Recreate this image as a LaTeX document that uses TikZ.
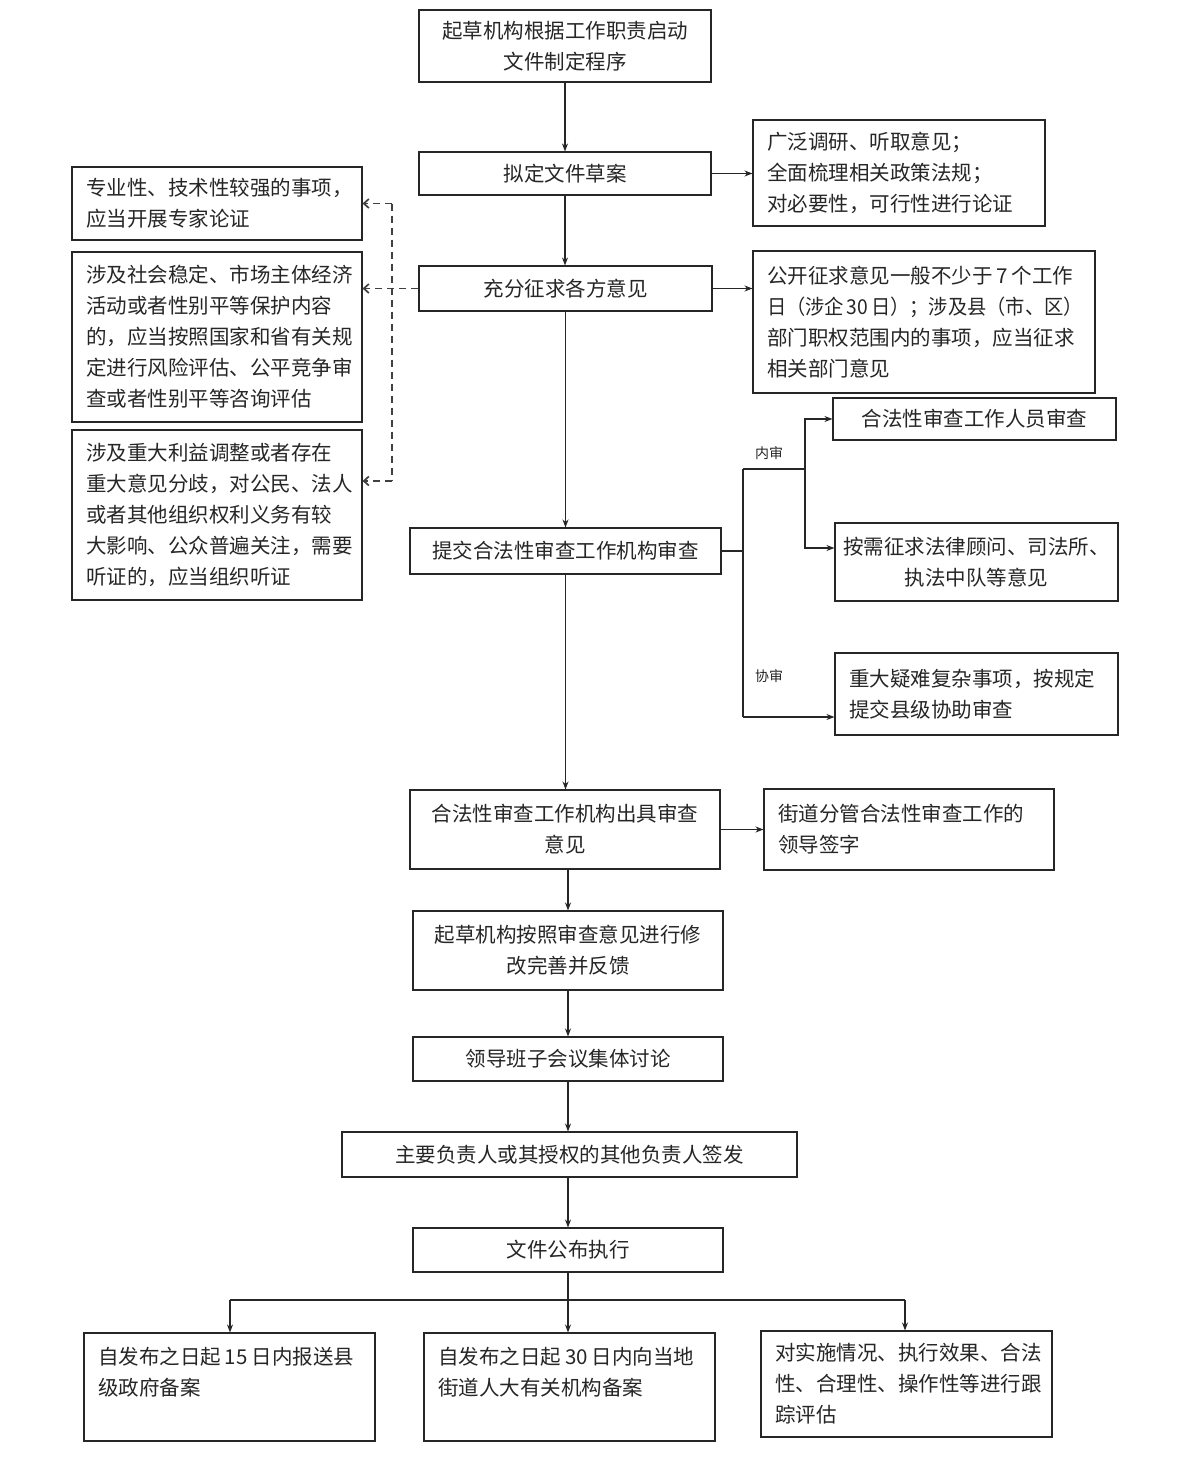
\documentclass[tikz,border=0pt]{standalone}
\usepackage{fontspec}
\usepackage{graphicx}
\newfontfamily\cjk{Noto Sans CJK SC}
\usetikzlibrary{arrows.meta}
\tikzset{
  box/.style={draw=black!85, line width=1.1pt, inner sep=0pt, text=black!85,
    font=\cjk\fontsize{20.5}{31}\selectfont},
  cbox/.style={box, align=center},
  lbox/.style={box, align=left, inner xsep=14pt},
  conn/.style={line width=1.1pt, draw=black!85},
  arr/.style={conn, -{Stealth[length=8pt,width=6pt]}},
  dsh/.style={line width=1.7pt, draw=black!75, dash pattern=on 7pt off 5pt},
  darr/.style={dsh, -{Straight Barb[length=5pt,width=9pt]}},
  lab/.style={font=\cjk\fontsize{14}{16}\selectfont, text=black!85, inner sep=0pt}
}
\begin{document}
\begin{tikzpicture}[x=1pt,y=-1pt]
\useasboundingbox[fill=white] (0,0) rectangle (1199,1477);
% main column
\node[cbox, minimum width=292pt, minimum height=72pt] (n1) at (565,46) {起草机构根据工作职责启动\\文件制定程序};
\node[cbox, minimum width=292pt, minimum height=43pt] (n2) at (565,173.5) {拟定文件草案};
\node[cbox, minimum width=293pt, minimum height=45pt] (n3) at (565.5,288.5) {充分征求各方意见};
\node[cbox, minimum width=311pt, minimum height=46pt] (n4) at (565.5,551) {提交合法性审查工作机构审查};
\node[cbox, minimum width=310pt, minimum height=79pt] (n5) at (565,829.5) {合法性审查工作机构出具审查\\意见};
\node[cbox, minimum width=310pt, minimum height=79pt] (n6) at (568,950.5) {起草机构按照审查意见进行修\\改完善并反馈};
\node[cbox, minimum width=310pt, minimum height=44pt] (n7) at (568,1059) {领导班子会议集体讨论};
\node[cbox, minimum width=455pt, minimum height=45pt] (n8) at (569.5,1154.5) {主要负责人或其授权的其他负责人签发};
\node[cbox, minimum width=310pt, minimum height=44pt] (n9) at (568,1250) {文件公布执行};
% right side
\node[lbox, text width=264pt, minimum height=106pt] (r1) at (899,173) {广泛调研、听取意见；\\全面梳理相关政策法规；\\对必要性，可行性进行论证};
\node[lbox, text width=314pt, minimum height=142pt] (r2) at (924,322) {公开征求意见一般不少于\kern4pt 7\kern4pt 个工作\\\scalebox{0.94}[1]{日（涉企\kern3pt 30\kern3pt 日）；涉及县（市、区）}\\部门职权范围内的事项，应当征求\\相关部门意见};
\node[cbox, minimum width=283pt, minimum height=42pt] (a1) at (974.5,419) {合法性审查工作人员审查};
\node[cbox, minimum width=283pt, minimum height=78pt] (a2) at (976.5,562) {按需征求法律顾问、司法所、\\执法中队等意见};
\node[lbox, text width=255pt, minimum height=82pt] (a3) at (976.5,694) {重大疑难复杂事项，按规定\\提交县级协助审查};
\node[lbox, text width=262pt, minimum height=81pt] (s1) at (909,829.5) {街道分管合法性审查工作的\\领导签字};
% left side
\node[lbox, text width=262pt, minimum height=73pt] (l1) at (217,203.5) {专业性、技术性较强的事项，\\应当开展专家论证};
\node[lbox, text width=262pt, minimum height=170pt] (l2) at (217,337) {涉及社会稳定、市场主体经济\\活动或者性别平等保护内容\\的，应当按照国家和省有关规\\定进行风险评估、公平竞争审\\查或者性别平等咨询评估};
\node[lbox, text width=262pt, minimum height=170pt] (l3) at (217,515) {涉及重大利益调整或者存在\\重大意见分歧，对公民、法人\\或者其他组织权利义务有较\\大影响、公众普遍关注，需要\\听证的，应当组织听证};
% bottom
\node[lbox, text width=263pt, minimum height=108pt] (b1) at (229.5,1387) {自发布之日起\kern4pt 15\kern4pt 日内报送县\\级政府备案\\~};
\node[lbox, text width=263pt, minimum height=108pt] (b2) at (569.5,1387) {自发布之日起\kern4pt 30\kern4pt 日内向当地\\街道人大有关机构备案\\~};
\node[lbox, text width=263pt, minimum height=106pt] (b3) at (906.5,1384) {对实施情况、执行效果、合法\\性、合理性、操作性等进行跟\\踪评估};
% labels
\node[lab] (t1) at (769,453) {内审};
\node[lab] (t2) at (769,676) {协审};
% main connectors
\draw[arr] (n1.south) -- (n1.south |- n2.north);
\draw[arr] (n2.south) -- (n2.south |- n3.north);
\draw[arr] (n3.south) -- (n3.south |- n4.north);
\draw[arr] (n4.south) -- (n4.south |- n5.north);
\draw[arr] (n6.north |- n5.south) -- (n6.north);
\draw[arr] (n6.south) -- (n6.south |- n7.north);
\draw[arr] (n7.south) -- (n7.south |- n8.north);
\draw[arr] (n9.north |- n8.south) -- (n9.north);
\draw[arr] (n2.east) -- (n2.east -| r1.west);
\draw[arr] (n3.east) -- (n3.east -| r2.west);
\draw[arr] (n5.east) -- (n5.east -| s1.west);
% dashed to left
\coordinate (dt) at (392,203.5);
\coordinate (db) at (392,481);
\draw[dsh] (dt) -- (db);
\draw[darr] (n3.west) -- (n3.west -| l2.east);
\draw[darr] (dt) -- (dt -| l1.east);
\draw[darr] (db) -- (db -| l3.east);
% review branches
\coordinate (j1) at (743,469);
\coordinate (j2) at (743,717);
\coordinate (k1) at (805,469);
\draw[conn] (n4.east) -- (n4.east -| j1);
\draw[conn] (j1) -- (j2);
\draw[conn] (j1) -- (k1);
\draw[arr] (k1) |- (a1.west);
\draw[arr] (k1) |- ([yshift=14pt]a2.west);
\draw[arr] (j2) -- (j2 -| a3.west);
% bottom distribution
\coordinate (hl) at (230,1300);
\coordinate (hr) at (905,1300);
\draw[conn] (hl) -- (hr);
\draw[arr] (n9.south) -- (n9.south |- b2.north);
\draw[arr] (hl) -- (hl |- b1.north);
\draw[arr] (hr) -- (hr |- b3.north);
\end{tikzpicture}
\end{document}
